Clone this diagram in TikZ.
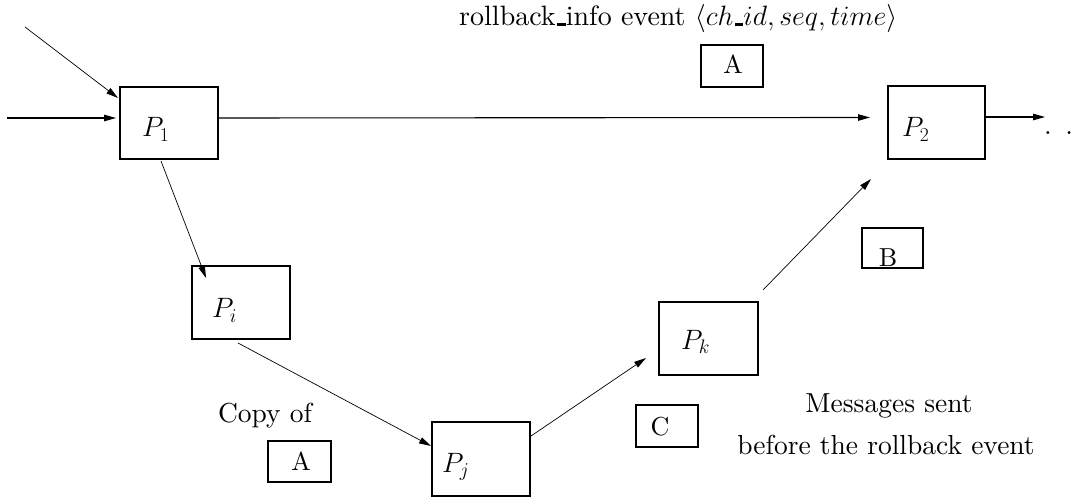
\RequirePackage{fix-cm}
\documentclass[tikz,border=0pt]{standalone}
\usepackage{fontspec}
\setmainfont{lmroman10-regular}[Extension=.otf,BoldFont=lmroman10-bold,ItalicFont=lmroman10-italic]
\usetikzlibrary{arrows.meta}
\newcommand{\ubar}{\kern.06em\vbox{\hrule width.3em height .09em}}
\begin{document}
\begin{tikzpicture}[x=1pt,y=-1pt,
  box/.style={draw,line width=2pt,inner sep=0pt},
  lbl/.style={inner sep=0pt,anchor=base,font=\fontsize{27.5}{33}\selectfont},
  letter/.style={inner sep=0pt,anchor=base,font=\fontsize{26}{31}\selectfont},
  plbl/.style={inner sep=0pt,anchor=base west,font=\fontsize{28}{33}\selectfont},
  arr/.style={line width=1.1pt,-{Triangle[length=12pt,width=6.5pt]}},
  thinarr/.style={line width=0.7pt,-{Triangle[length=12pt,width=6.5pt]}}]
\useasboundingbox (0,0) rectangle (1089,502);
% process boxes
\node[box,minimum width=98pt,minimum height=72pt] (P1) at (169,123) {};
\node[box,minimum width=97pt,minimum height=73pt] (P2) at (936.5,122.5) {};
\node[box,minimum width=98pt,minimum height=73pt] (Pi) at (241,302.5) {};
\node[box,minimum width=98pt,minimum height=74pt] (Pj) at (481,459) {};
\node[box,minimum width=99pt,minimum height=73pt] (Pk) at (708.5,338.5) {};
% message boxes
\node[box,minimum width=62pt,minimum height=42pt] (Atop) at (732,66) {};
\node[box,minimum width=61pt,minimum height=40pt] (Bbox) at (892.5,248) {};
\node[box,minimum width=63pt,minimum height=41pt] (Abot) at (299.5,461.5) {};
\node[box,minimum width=62pt,minimum height=42pt] (Cbox) at (667,426) {};
% labels
\node[plbl] (lP1) at (142,137) {$P_1$};
\node[plbl] (lP2) at (902,137) {$P_2$};
\node[plbl] (lPi) at (212,318) {$P_i$};
\node[plbl] (lPj) at (442,472) {$P_j$};
\node[plbl] (lPk) at (681,349) {$P_k$};
\node[letter] (lA1) at (733,74) {A};
\node[letter] (lA2) at (301,470) {A};
\node[letter] (lB) at (888,267) {B};
\node[letter] (lC) at (660,435) {C};
\node[inner sep=0pt,anchor=base west,font=\fontsize{28}{33}\selectfont] (title) at (459,26)
  {rollback\ubar info event $\langle ch\ubar id, seq, time\rangle$};
\node[lbl] (copy) at (265,422) {Copy of};
\node[lbl] (msg1) at (889,412) {Messages sent};
\node[lbl] (msg2) at (886,454) {before the rollback event};
\node[lbl,anchor=base west] (dots) at (1044,135) {.\hspace{13.5pt}.};
% free ends
\coordinate (in1) at (7,118);
\coordinate (in2) at (25,27);
\coordinate (out2) at (1045,117);
% connectors
\draw[arr] (in1) -- ([xshift=-3pt,yshift=5pt]P1.west);
\draw[thinarr] (in2) -- ([xshift=-1pt,yshift=-12pt]P1.north west);
\draw[arr] ([yshift=5pt]P1.east) -- ([xshift=-17pt,yshift=5pt]P2.west);
\draw[arr] ([yshift=5.5pt]P2.east) -- (out2);
\draw[thinarr] ([xshift=-8pt,yshift=-1pt]P1.south) -- ([xshift=15pt,yshift=-13pt]Pi.north west);
\draw[thinarr] ([xshift=-3pt,yshift=-3pt]Pi.south) -- ([yshift=-25pt]Pj.north west);
\draw[thinarr] ([yshift=-15pt]Pj.north east) -- ([xshift=-12pt,yshift=-57pt]Pk.north west);
\draw[thinarr] ([xshift=4pt,yshift=11pt]Pk.north east) -- ([xshift=-16pt,yshift=-19pt]P2.south west);
\end{tikzpicture}
\end{document}
